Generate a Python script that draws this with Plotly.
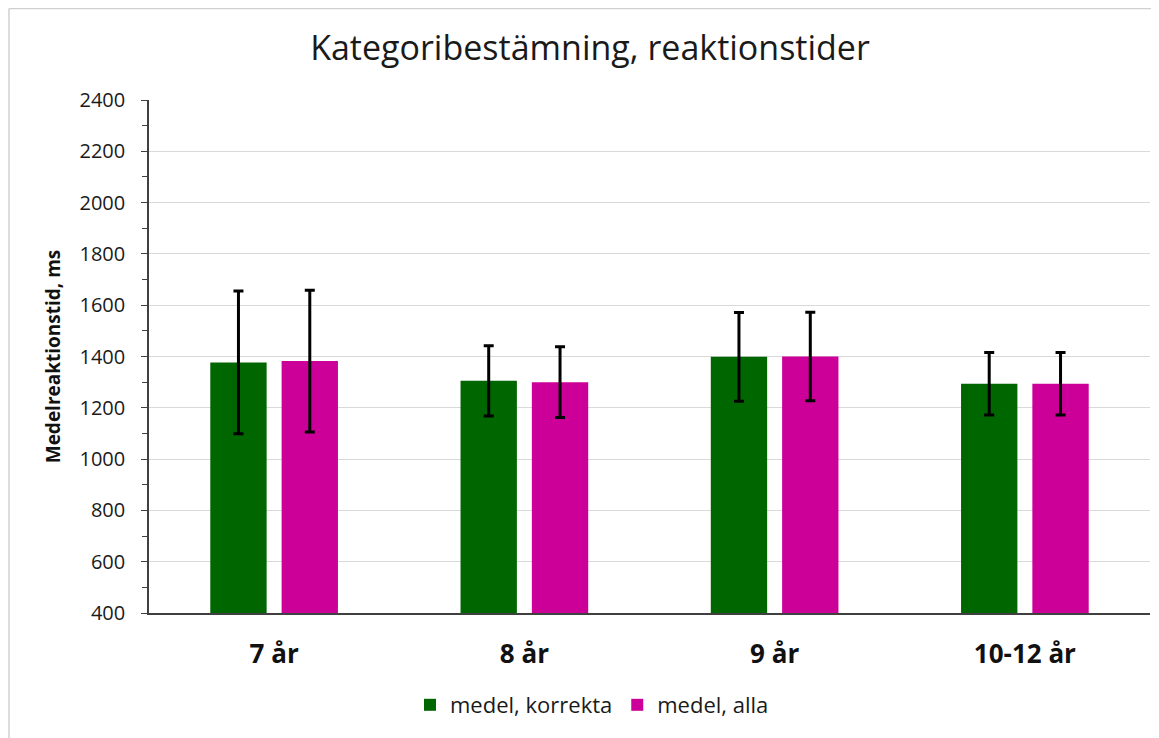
import plotly.graph_objects as go

categories = ["7 år", "8 år", "9 år", "10-12 år"]
korrekta = [1377, 1305, 1399, 1294]
korrekta_err = [278, 137, 173, 122]
alla = [1382, 1300, 1400, 1294]
alla_err = [276, 138, 173, 122]
y_ticks = list(range(400, 2401, 200))

fig = go.Figure()
fig.add_trace(go.Bar(
    x=categories, y=korrekta, name="medel, korrekta",
    marker=dict(color="#006600", line=dict(width=0)),
    error_y=dict(type="data", array=korrekta_err, color="black", thickness=3, width=5),
))
fig.add_trace(go.Bar(
    x=categories, y=alla, name="medel, alla",
    marker=dict(color="#CC0099", line=dict(width=0)),
    error_y=dict(type="data", array=alla_err, color="black", thickness=3, width=5),
))

font_family = "Open Sans, Liberation Sans, sans-serif"
W, H = 1151, 730
L, R, T, B = 141, 9, 92, 125
pw, ph = W - L - R, H - T - B
fig.update_layout(
    width=W, height=H,
    paper_bgcolor="white", plot_bgcolor="white",
    margin=dict(l=L, r=R, t=T, b=B),
    barmode="group", bargap=0.43, bargroupgap=0.21,
    title=dict(text="Kategoribestämning, reaktionstider", x=(590 - 8) / W, xanchor="center",
               y=1 - 40 / H, yanchor="middle",
               font=dict(family=font_family, size=34, color="#1a1a1a")),
    font=dict(family=font_family, color="#1a1a1a"),
    showlegend=True,
    legend=dict(orientation="h", x=(592 - 8 - L) / pw, xanchor="center",
                y=-(697 - (H - B)) / ph, yanchor="middle",
                font=dict(size=22, color="#1a1a1a"), traceorder="normal"),
    shapes=[
        dict(type="line", xref="paper", yref="paper", x0=(1 - L) / pw, x1=1.1,
             y0=1 + (T - 0.5) / ph, y1=1 + (T - 0.5) / ph,
             line=dict(color="#d0d0d0", width=1.5)),
        dict(type="line", xref="paper", yref="paper", x0=(1 - L) / pw, x1=(1 - L) / pw,
             y0=1 + (T - 0.5) / ph, y1=-0.3,
             line=dict(color="#d0d0d0", width=1.5)),
    ],
)
fig.update_yaxes(
    range=[400, 2400], tickvals=y_ticks,
    showgrid=True, gridcolor="#d9d9d9", gridwidth=1,
    showline=True, linecolor="#404040", linewidth=1.5,
    ticks="outside", ticklen=6, tickcolor="#404040",
    minor=dict(dtick=100, ticks="outside", ticklen=5, tickcolor="#404040", showgrid=False),
    tickfont=dict(size=20, color="#1a1a1a"), ticklabelstandoff=12,
    title=dict(text="<b>Medelreaktionstid, ms</b>", font=dict(size=19, color="#111111"), standoff=14),
    zeroline=False,
)
fig.update_xaxes(
    showline=True, linecolor="#404040", linewidth=1.5,
    ticks="", tickfont=dict(size=26, color="#111111"), ticklabelstandoff=17,
    tickvals=categories, ticktext=["<b>" + c + "</b>" for c in categories],
)

fig.write_html("out.html")
